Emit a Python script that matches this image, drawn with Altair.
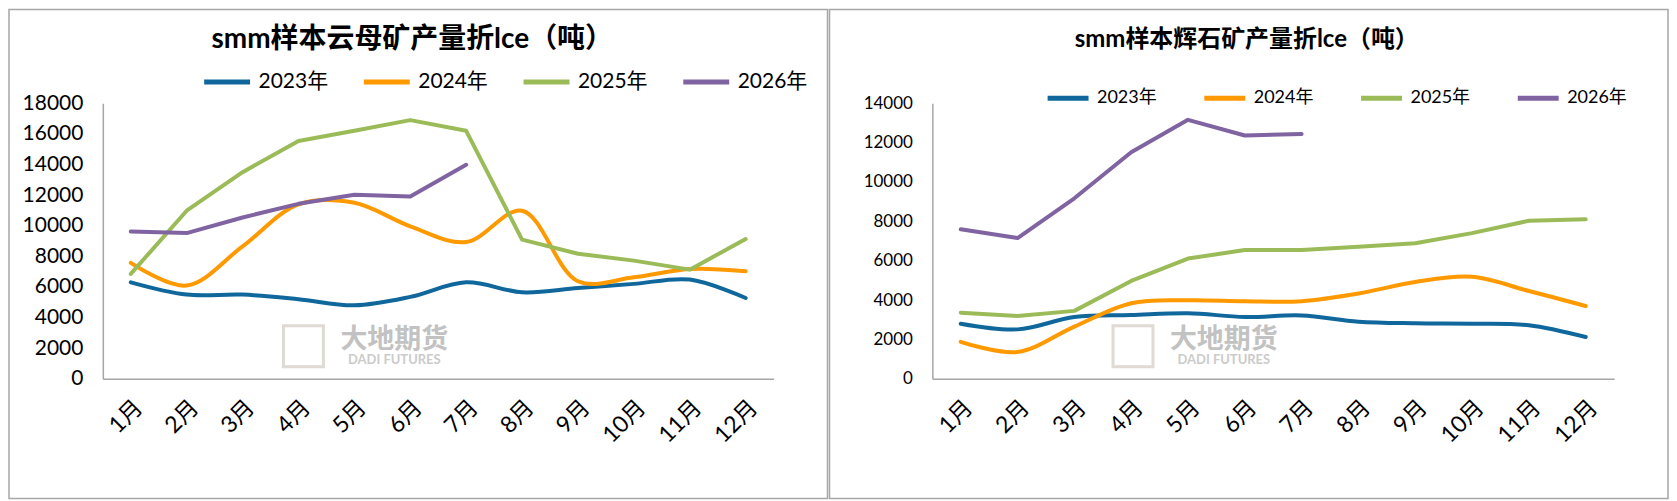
import altair as alt
import pandas as pd

months = ["1月", "2月", "3月", "4月", "5月", "6月", "7月", "8月", "9月", "10月", "11月", "12月"]
years = ["2023年", "2024年", "2025年", "2026年"]
colors = ["#10679b", "#ff9900", "#9bbb59", "#8064a2"]

# smm样本云母矿产量折lce（吨）
mica_2023 = [6300, 5500, 5500, 5200, 4800, 5350, 6300, 5650, 5930, 6200, 6480, 5280]
mica_2024 = [7570, 6090, 8650, 11400, 11500, 9960, 8930, 10980, 6370, 6630, 7170, 7020]
mica_2025 = [6850, 10980, 13500, 15540, 16200, 16900, 16200, 9090, 8170, 7720, 7130, 9130]
mica_2026 = [9630, 9520, 10540, 11430, 12020, 11910, 13980]

# smm样本辉石矿产量折lce（吨）
spod_2023 = [2800, 2510, 3140, 3240, 3330, 3140, 3220, 2900, 2820, 2800, 2720, 2120]
spod_2024 = [1880, 1360, 2650, 3840, 3990, 3940, 3940, 4330, 4920, 5180, 4460, 3700]
spod_2025 = [3360, 3190, 3450, 4970, 6110, 6540, 6540, 6710, 6890, 7400, 8030, 8110]
spod_2026 = [7600, 7150, 9170, 11510, 13160, 12360, 12440]

FONT = "Lato, 'Noto Sans CJK SC', sans-serif"
GREY = "#a6a6a6"


def long_df(series):
    rows = []
    for year, vals in zip(years, series):
        for m, v in zip(months, vals):
            rows.append({"月份": m, "年份": year, "产量": v})
    return pd.DataFrame(rows)


def panel(df, title, ymax, width, left, right, title_x, title_size,
          legend_x, legend_y, legend_size, sym_len, col_pad, tick_size):
    height = 276
    color = alt.Color("年份:N", scale=alt.Scale(domain=years, range=colors),
        legend=alt.Legend(orient="none", legendX=legend_x, legendY=legend_y, direction="horizontal",
            columns=4, title=None, symbolType="stroke", symbolStrokeWidth=5, symbolSize=sym_len ** 2,
            labelFont=FONT, labelFontSize=legend_size, labelColor="black", columnPadding=col_pad,
            labelOffset=6, padding=0))
    x = alt.X("月份:N", sort=months, title=None, axis=alt.Axis(labelAngle=-45, ticks=False,
        domainColor=GREY, domainWidth=1.5, labelFont=FONT, labelFontSize=23, labelColor="black",
        labelPadding=17, labelOverlap=False))
    y = alt.Y("产量:Q", title=None, scale=alt.Scale(domain=[0, ymax], nice=False),
        axis=alt.Axis(values=list(range(0, ymax + 1, 2000)), format="d", ticks=False, grid=False,
            domainColor=GREY, domainWidth=1.5, labelFont=FONT, labelFontSize=tick_size,
            labelColor="black", labelPadding=20))

    base = alt.Chart(df).encode(x=x, y=y, color=color)
    smooth = base.transform_filter(alt.FieldOneOfPredicate(field="年份", oneOf=years[:2])).mark_line(
        interpolate="catmull-rom", strokeWidth=4, strokeCap="round", strokeJoin="round")
    straight = base.transform_filter(alt.FieldOneOfPredicate(field="年份", oneOf=years[2:])).mark_line(
        strokeWidth=4, strokeCap="round", strokeJoin="round")

    one = pd.DataFrame({"k": [0]})
    frame = alt.Chart(one).mark_rect(fillOpacity=0, stroke=GREY, strokeWidth=1.5).encode(
        x=alt.value(-left), x2=alt.value(width + right), y=alt.value(-94), y2=alt.value(height + 120))
    head = alt.Chart(pd.DataFrame({"t": [title]})).mark_text(font=FONT, fontSize=title_size,
        fontWeight="bold", align="center", baseline="middle", color="black").encode(
        text="t:N", x=alt.value(title_x), y=alt.value(-63))

    # faded company watermark
    logo = alt.Chart(one).mark_rect(fillOpacity=0, stroke="#dcd8d0", strokeWidth=3, opacity=0.9).encode(
        x=alt.value(181), x2=alt.value(221), y=alt.value(223), y2=alt.value(264))
    wm1 = alt.Chart(pd.DataFrame({"t": ["大地期货"]})).mark_text(font=FONT, fontSize=27, fontWeight="bold",
        color="#c2c2c2", align="center", baseline="middle").encode(text="t:N", x=alt.value(292),
        y=alt.value(237))
    wm2 = alt.Chart(pd.DataFrame({"t": ["DADI FUTURES"]})).mark_text(font=FONT, fontSize=13, fontWeight="bold",
        color="#cbcbcb", align="center", baseline="middle").encode(text="t:N", x=alt.value(292),
        y=alt.value(257))

    return alt.layer(frame, logo, wm1, wm2, smooth, straight, head).properties(width=width, height=height)


left_chart = panel(long_df([mica_2023, mica_2024, mica_2025, mica_2026]), "smm样本云母矿产量折lce（吨）",
    18000, 672, 94, 54, 310, 28, 99, -47, 21, 46, 25, 21)
right_chart = panel(long_df([spod_2023, spod_2024, spod_2025, spod_2026]), "smm样本辉石矿产量折lce（吨）",
    14000, 683, 103, 54, 315, 24, 113, -28, 18, 41, 37, 17)

chart = alt.hconcat(left_chart, right_chart, spacing=0).resolve_scale(color="independent").resolve_legend(
    color="independent").properties(
    padding={"left": 0, "top": 0, "right": 0, "bottom": 0}, background="white"
).configure_view(stroke=None)

chart.save("out.html", embed_options={"renderer": "svg", "actions": False})
